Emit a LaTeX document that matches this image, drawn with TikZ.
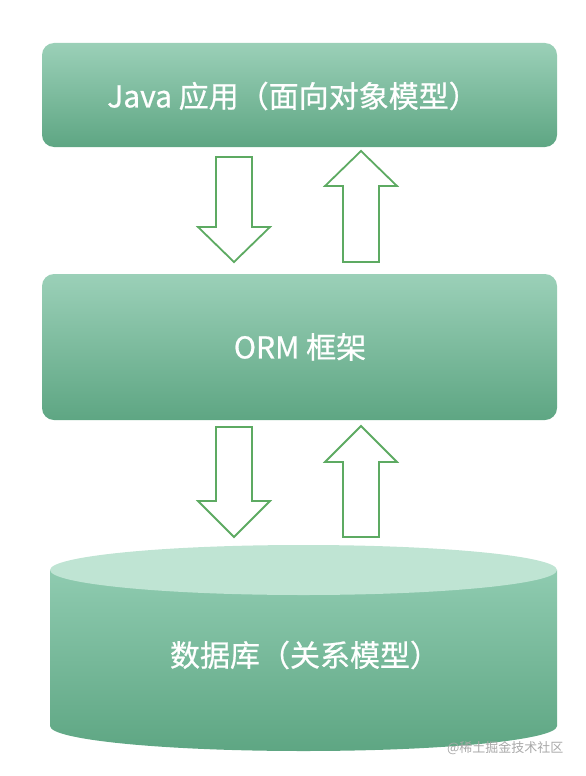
\documentclass[tikz,border=0pt]{standalone}
\usepackage{fontspec}
\setmainfont{Noto Sans CJK SC}
\newfontfamily\cjk[FakeBold=0.7]{Noto Sans CJK SC}
\newfontfamily\cjkwm{Noto Sans CJK SC}
\usetikzlibrary{shapes.geometric}
\definecolor{gtop}{HTML}{9BD0B8}
\definecolor{gbot}{HTML}{5EA683}
\definecolor{ctop}{HTML}{BFE4D3}
\definecolor{cside}{HTML}{8FCBB0}
\definecolor{arrowgreen}{HTML}{5DAA62}
\definecolor{wm}{HTML}{A8A8A8}
\tikzset{
  box/.style={rounded corners=12pt, top color=gtop, bottom color=gbot, draw=none,
    minimum width=515pt},
  bigarrow/.style={draw=arrowgreen, line width=1.8pt, fill=white, line join=miter},
  label/.style={text=white, font=\cjk\fontsize{30}{34}\selectfont},
}
\begin{document}
\begin{tikzpicture}[x=1pt,y=-1pt]
\useasboundingbox (0,0) rectangle (586,776);
% top box
\node[box, minimum height=104pt] (java) at (299.5,95) {};
\node[label] (javat) at (293,96) {Java 应用（面向对象模型）};
% middle box
\node[box, minimum height=146pt] (orm) at (299.5,347) {};
\node[label] (ormt) at (300,347) {ORM 框架};
% arrows between java and orm
\draw[bigarrow] (216,157) -- (252,157) -- (252,227) -- (270,227) -- (234,262) -- (198,227) -- (216,227) -- cycle;
\draw[bigarrow] (361,151) -- (397,186) -- (379,186) -- (379,262) -- (343,262) -- (343,186) -- (325,186) -- cycle;
% arrows between orm and db
\draw[bigarrow] (216,427) -- (252,427) -- (252,501) -- (270,501) -- (234,537) -- (198,501) -- (216,501) -- cycle;
\draw[bigarrow] (361,426) -- (397,462) -- (379,462) -- (379,537) -- (343,537) -- (343,462) -- (325,462) -- cycle;
% database cylinder
\shade[top color=cside, bottom color=gbot] (50,570) -- (50,726) arc[start angle=180, end angle=360, x radius=253.5, y radius=-25] -- (557,570) -- cycle;
\fill[ctop] (303.5,570) ellipse[x radius=253.5, y radius=25];
\node[label] (db) at (305,655) {数据库（关系模型）};
\node[text=wm, font=\cjkwm\fontsize{13}{15}\selectfont, anchor=east] (wmk) at (567,748) {@稀土掘金技术社区};
\end{tikzpicture}
\end{document}
